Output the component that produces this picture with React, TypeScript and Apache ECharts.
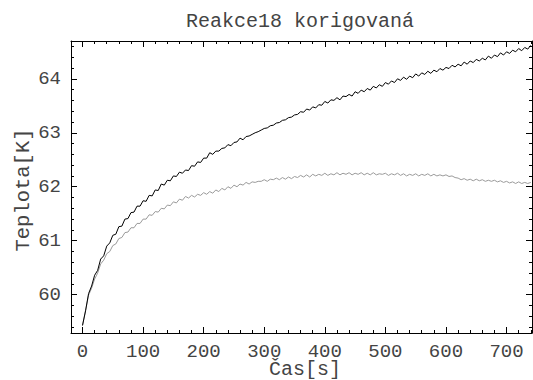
import React, { useEffect, useRef } from "react";
import * as echarts from "echarts";

const TITLE = "Reakce18 korigovaná";
const X_NAME = "Čas[s]";
const Y_NAME = "Teplota[K]";
const X_MIN = -19;
const X_MAX = 742;
const Y_MIN = 59.29;
const Y_MAX = 64.7;

const TIME = [
  0, 5, 10, 15, 20, 25, 30, 35, 40, 45, 50, 55, 60, 65, 70, 75, 80, 85, 90, 95,
  100, 105, 110, 115, 120, 125, 130, 135, 140, 145, 150, 155, 160, 165, 170, 175, 180, 185, 190, 195,
  200, 205, 210, 215, 220, 225, 230, 235, 240, 245, 250, 255, 260, 265, 270, 275, 280, 285, 290, 295,
  300, 305, 310, 315, 320, 325, 330, 335, 340, 345, 350, 355, 360, 365, 370, 375, 380, 385, 390, 395,
  400, 405, 410, 415, 420, 425, 430, 435, 440, 445, 450, 455, 460, 465, 470, 475, 480, 485, 490, 495,
  500, 505, 510, 515, 520, 525, 530, 535, 540, 545, 550, 555, 560, 565, 570, 575, 580, 585, 590, 595,
  600, 605, 610, 615, 620, 625, 630, 635, 640, 645, 650, 655, 660, 665, 670, 675, 680, 685, 690, 695,
  700, 705, 710, 715, 720, 725, 730, 735, 740,
];

const MEASURED = [
  59.43, 59.70, 60.02, 60.16, 60.36, 60.45, 60.66, 60.72, 60.90, 60.96, 61.10, 61.12, 61.26, 61.27, 61.40, 61.41, 61.52, 61.53, 61.64, 61.64,
  61.74, 61.73, 61.84, 61.83, 61.94, 61.93, 62.05, 62.03, 62.12, 62.11, 62.20, 62.19, 62.27, 62.25, 62.31, 62.30, 62.39, 62.38, 62.46, 62.45,
  62.53, 62.53, 62.63, 62.60, 62.66, 62.66, 62.71, 62.72, 62.78, 62.76, 62.82, 62.83, 62.90, 62.87, 62.93, 62.94, 62.97, 63.00, 63.02, 63.05,
  63.08, 63.09, 63.13, 63.14, 63.18, 63.19, 63.23, 63.24, 63.28, 63.29, 63.33, 63.34, 63.39, 63.38, 63.44, 63.42, 63.48, 63.46, 63.52, 63.51,
  63.58, 63.55, 63.61, 63.60, 63.65, 63.61, 63.68, 63.67, 63.71, 63.68, 63.76, 63.73, 63.79, 63.76, 63.82, 63.79, 63.86, 63.83, 63.89, 63.86,
  63.93, 63.90, 63.96, 63.93, 64.00, 63.97, 64.03, 63.99, 64.05, 64.02, 64.09, 64.05, 64.11, 64.08, 64.14, 64.10, 64.16, 64.13, 64.19, 64.16,
  64.21, 64.19, 64.25, 64.22, 64.27, 64.24, 64.31, 64.27, 64.33, 64.30, 64.36, 64.33, 64.38, 64.35, 64.42, 64.38, 64.44, 64.41, 64.48, 64.44,
  64.50, 64.47, 64.53, 64.50, 64.56, 64.52, 64.58, 64.55, 64.62,
];

const CORRECTED = [
  59.43, 59.70, 59.99, 60.12, 60.29, 60.40, 60.57, 60.64, 60.76, 60.80, 60.91, 60.94, 61.04, 61.06, 61.15, 61.16, 61.24, 61.24, 61.32, 61.32,
  61.40, 61.40, 61.48, 61.47, 61.54, 61.53, 61.60, 61.59, 61.66, 61.65, 61.72, 61.70, 61.77, 61.75, 61.82, 61.79, 61.84, 61.81, 61.86, 61.84,
  61.89, 61.86, 61.91, 61.88, 61.94, 61.91, 61.97, 61.94, 62.00, 61.97, 62.03, 62.00, 62.05, 62.03, 62.08, 62.05, 62.09, 62.08, 62.10, 62.10,
  62.13, 62.10, 62.14, 62.13, 62.16, 62.13, 62.17, 62.14, 62.18, 62.15, 62.19, 62.17, 62.21, 62.18, 62.22, 62.18, 62.23, 62.20, 62.23, 62.21,
  62.25, 62.21, 62.24, 62.22, 62.26, 62.22, 62.25, 62.23, 62.26, 62.22, 62.25, 62.23, 62.26, 62.22, 62.25, 62.22, 62.26, 62.22, 62.24, 62.23,
  62.25, 62.21, 62.24, 62.22, 62.25, 62.21, 62.24, 62.20, 62.23, 62.21, 62.24, 62.20, 62.23, 62.21, 62.24, 62.20, 62.23, 62.20, 62.22, 62.20,
  62.22, 62.19, 62.20, 62.17, 62.16, 62.13, 62.15, 62.12, 62.14, 62.11, 62.14, 62.11, 62.13, 62.10, 62.12, 62.10, 62.12, 62.09, 62.11, 62.08,
  62.10, 62.07, 62.09, 62.06, 62.09, 62.06, 62.08, 62.06, 62.08,
];

const FONT = '"Liberation Mono", "Courier New", monospace';
const TEXT_COLOR = "#444";

function xAxisDef(position: "top" | "bottom", split: number, len: number, labels: boolean, line: boolean) {
  return {
    type: "value",
    position,
    min: X_MIN,
    max: X_MAX,
    splitNumber: split,
    axisLine: { show: line, onZero: false, lineStyle: { color: "#000", width: 1 } },
    axisTick: { show: true, inside: true, length: len, lineStyle: { color: "#000", width: 1 } },
    axisLabel: {
      show: labels,
      margin: 9,
      fontFamily: FONT,
      fontSize: 19,
      color: TEXT_COLOR,
      showMinLabel: false,
      showMaxLabel: false,
      formatter: (v: number) => (Math.abs(v % 100) < 1e-6 ? String(v) : ""),
    },
    splitLine: { show: false },
  };
}

function yAxisDef(position: "left" | "right", split: number, len: number, labels: boolean, line: boolean) {
  return {
    type: "value",
    position,
    min: Y_MIN,
    max: Y_MAX,
    splitNumber: split,
    axisLine: { show: line, onZero: false, lineStyle: { color: "#000", width: 1 } },
    axisTick: { show: true, inside: true, length: len, lineStyle: { color: "#000", width: 1 } },
    axisLabel: {
      show: labels,
      margin: 10,
      fontFamily: FONT,
      fontSize: 19,
      color: TEXT_COLOR,
      showMinLabel: false,
      showMaxLabel: false,
      formatter: (v: number) => (Math.abs(v - Math.round(v)) < 1e-6 ? String(Math.round(v)) : ""),
    },
    splitLine: { show: false },
  };
}

export default function App() {
  const ref = useRef<HTMLDivElement>(null);
  useEffect(() => {
    if (!ref.current) return;
    const chart = echarts.init(ref.current, undefined, { renderer: "svg" });
    chart.setOption({
      animation: false,
      backgroundColor: "#ffffff",
      grid: { left: 71, top: 41, right: 1, bottom: 47, containLabel: false },
      xAxis: [
        xAxisDef("bottom", 8, 6, true, true),
        xAxisDef("bottom", 38, 3, false, false),
        xAxisDef("top", 8, 6, false, true),
        xAxisDef("top", 38, 3, false, false),
      ],
      yAxis: [
        yAxisDef("left", 5, 6, true, true),
        yAxisDef("left", 27, 3, false, false),
        yAxisDef("right", 5, 6, false, true),
        yAxisDef("right", 27, 3, false, false),
      ],
      graphic: [
        {
          type: "text",
          x: 300,
          y: 21,
          style: { text: TITLE, fontFamily: FONT, fontSize: 20, fill: TEXT_COLOR, textAlign: "center", textVerticalAlign: "middle" },
        },
        {
          type: "text",
          x: 305,
          y: 369,
          style: { text: X_NAME, fontFamily: FONT, fontSize: 20, fill: TEXT_COLOR, textAlign: "center", textVerticalAlign: "middle" },
        },
        {
          type: "text",
          x: 23,
          y: 190,
          rotation: Math.PI / 2,
          style: { text: Y_NAME, fontFamily: FONT, fontSize: 20.5, fill: TEXT_COLOR, textAlign: "center", textVerticalAlign: "middle" },
        },
      ],
      series: [
        {
          type: "line",
          name: "korigovaná",
          xAxisIndex: 0,
          yAxisIndex: 0,
          data: TIME.map((t, i) => [t, CORRECTED[i]]),
          showSymbol: false,
          symbol: "none",
          lineStyle: { color: "#9a9a9a", width: 1 },
        },
        {
          type: "line",
          name: "měřená",
          xAxisIndex: 0,
          yAxisIndex: 0,
          data: TIME.map((t, i) => [t, MEASURED[i]]),
          showSymbol: false,
          symbol: "none",
          lineStyle: { color: "#000000", width: 1 },
        },
      ],
    });
    return () => chart.dispose();
  }, []);
  return <div ref={ref} style={{ width: 533, height: 380, position: "absolute", left: 0, top: 0 }} />;
}
